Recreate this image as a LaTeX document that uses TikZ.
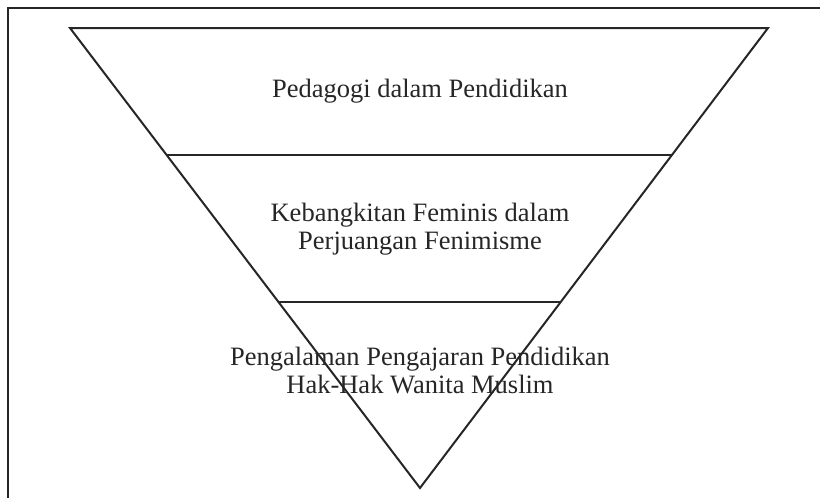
\documentclass[tikz,border=0pt]{standalone}
\usepackage{fontspec}
\setmainfont{Liberation Serif}
\usetikzlibrary{calc}
\begin{document}
\begin{tikzpicture}[x=1pt,y=-1pt,
  edge/.style={line width=2pt,color=black!85},
  frame/.style={line width=2.5pt,color=black!85},
  lbl/.style={font=\fontsize{26.5}{28}\selectfont,color=black!85,anchor=base,inner sep=0pt,align=center}]
\useasboundingbox (0,0) rectangle (820,498);
\coordinate (fa) at (8,498);
\coordinate (fb) at (8,8);
\coordinate (fc) at (820,8);
\draw[frame] (fa) -- (fb) -- (fc);
\coordinate (tl) at (70,28);
\coordinate (tr) at (768,28);
\coordinate (ap) at (420,488);
\draw[edge,line join=miter] (tl) -- (tr) -- (ap) -- cycle;
\coordinate (d1l) at ($(tl)!127/460!(ap)$);
\coordinate (d1r) at ($(tr)!127/460!(ap)$);
\coordinate (d2l) at ($(tl)!274/460!(ap)$);
\coordinate (d2r) at ($(tr)!274/460!(ap)$);
\draw[edge] (d1l) -- (d1r);
\draw[edge] (d2l) -- (d2r);
\node[lbl] (t1) at (420,97) {Pedagogi dalam Pendidikan};
\node[lbl] (t2) at (420,221) {Kebangkitan Feminis dalam};
\node[lbl] (t3) at (420,249) {Perjuangan Fenimisme};
\node[lbl] (t4) at (420,365) {Pengalaman Pengajaran Pendidikan};
\node[lbl] (t5) at (420,393) {Hak-Hak Wanita Muslim};
\end{tikzpicture}
\end{document}
